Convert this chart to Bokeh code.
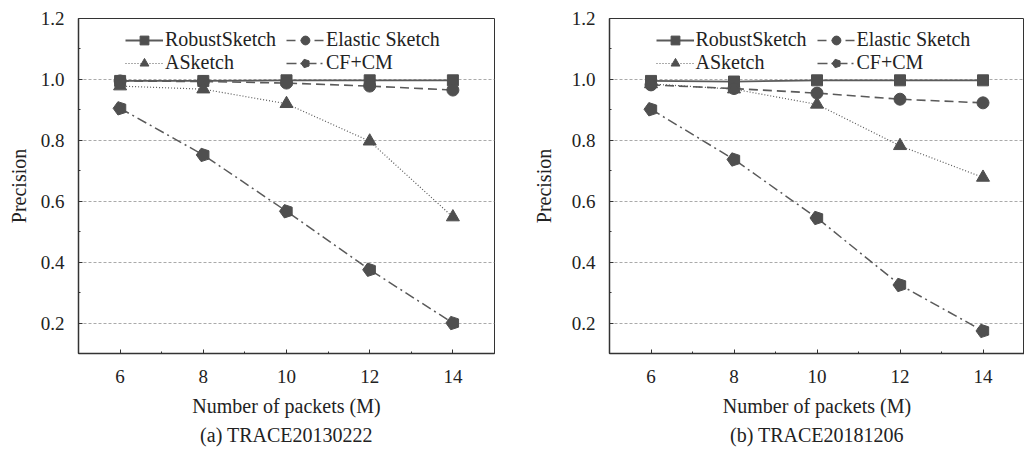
import math
from bokeh.plotting import figure
from bokeh.layouts import row
from bokeh.models import FixedTicker, NumeralTickFormatter, Title, Range1d, Legend, LegendItem
from bokeh.embed import file_html
from bokeh.resources import INLINE

packets = [6, 8, 10, 12, 14]

a_robust = [0.995, 0.995, 0.997, 0.997, 0.997]
a_elastic = [0.995, 0.993, 0.988, 0.978, 0.965]
a_asketch = [0.978, 0.968, 0.920, 0.797, 0.548]
a_cfcm = [0.905, 0.752, 0.567, 0.375, 0.200]

b_robust = [0.995, 0.993, 0.997, 0.997, 0.997]
b_elastic = [0.982, 0.970, 0.955, 0.935, 0.923]
b_asketch = [0.985, 0.968, 0.918, 0.782, 0.678]
b_cfcm = [0.902, 0.737, 0.545, 0.325, 0.174]

x_ticks = [6, 8, 10, 12, 14]
x_minor = [5, 7, 9, 11, 13, 15]
y_ticks = [0.2, 0.4, 0.6, 0.8, 1.0, 1.2]
y_minor = [0.1, 0.3, 0.5, 0.7, 0.9, 1.1]

FONT = "'Liberation Serif', serif"
TXT = "#222222"
MK = "#4f4f4f"
LN = "#5a5a5a"


def make(caption, robust, elastic, asketch, cfcm, left_border, right_border, ylab_standoff):
    p = figure(width=512, height=450, output_backend="svg", toolbar_location=None,
               x_range=Range1d(5, 15), y_range=Range1d(0.1, 1.2),
               min_border_left=left_border, min_border_right=right_border,
               min_border_top=18, min_border_bottom=97)
    p.background_fill_color = "white"
    p.outline_line_color = "#333333"
    p.outline_line_width = 1

    p.xgrid.visible = False
    p.ygrid.grid_line_color = "#aaaaaa"
    p.ygrid.grid_line_dash = "3 2"
    p.ygrid.grid_line_width = 1

    p.xaxis.ticker = FixedTicker(ticks=x_ticks, minor_ticks=x_minor)
    p.yaxis.ticker = FixedTicker(ticks=y_ticks, minor_ticks=y_minor)
    p.yaxis.formatter = NumeralTickFormatter(format="0.0")
    for ax in (p.xaxis, p.yaxis):
        ax.axis_line_color = "#333333"
        ax.axis_line_width = 1.5
        ax.major_tick_line_color = "#333333"
        ax.minor_tick_line_color = "#333333"
        ax.major_tick_in = 4
        ax.major_tick_out = 0
        ax.minor_tick_in = 2
        ax.minor_tick_out = 0
        ax.major_label_text_font = FONT
        ax.major_label_text_font_size = "19px"
        ax.major_label_text_color = TXT
        ax.axis_label_text_font = FONT
        ax.axis_label_text_font_size = "20px"
        ax.axis_label_text_font_style = "normal"
        ax.axis_label_text_color = TXT
    p.xaxis.axis_label = "Number of packets (M)"
    p.yaxis.axis_label = "Precision"
    p.xaxis.major_label_standoff = 16
    p.xaxis.axis_label_standoff = 9
    p.yaxis.major_label_standoff = 14
    p.yaxis.axis_label_standoff = ylab_standoff

    r1 = p.line(packets, robust, line_color=LN, line_width=1.8)
    s1 = p.scatter(packets, robust, marker="square", size=11, fill_color=MK, line_color=MK)

    r2 = p.line(packets, elastic, line_color=LN, line_width=1.6, line_dash="9 5")
    s2 = p.scatter(packets, elastic, marker="circle", size=12, fill_color=MK, line_color=MK)

    r3 = p.line(packets, asketch, line_color=LN, line_width=1.2, line_dash="1 2")
    s3 = p.scatter(packets, asketch, marker="triangle", size=13, fill_color=MK, line_color=MK)

    r4 = p.line(packets, cfcm, line_color=LN, line_width=1.5, line_dash="10 4 2 4")
    s4 = p.ngon(packets, cfcm, radius=7, radius_units="screen", n=5, angle=math.pi / 2,
                fill_color=MK, line_color=MK)

    lg = Legend(items=[
        LegendItem(label="RobustSketch", renderers=[r1, s1]),
        LegendItem(label="ASketch", renderers=[r3, s3]),
        LegendItem(label="Elastic Sketch", renderers=[r2, s2]),
        LegendItem(label="CF+CM", renderers=[r4, s4]),
    ])
    lg.ncols = 2
    lg.location = "top_center"
    lg.margin = 10
    lg.padding = 0
    lg.spacing = -3
    lg.border_line_color = None
    lg.background_fill_alpha = 0
    lg.label_text_font = FONT
    lg.label_text_font_size = "20px"
    lg.label_text_color = TXT
    lg.glyph_width = 38
    lg.glyph_height = 22
    lg.label_height = 19
    lg.label_width = 121
    lg.label_standoff = 2
    lg.label_text_baseline = "middle"
    p.add_layout(lg, "center")

    p.add_layout(Title(text=caption, align="center", text_font=FONT, text_font_size="20px",
                       text_font_style="normal", text_color=TXT, standoff=5), "below")
    return p


pa = make("(a) TRACE20130222", a_robust, a_elastic, a_asketch, a_cfcm, 78, 18, 8)
pb = make("(b) TRACE20181206", b_robust, b_elastic, b_asketch, b_cfcm, 97, 0, 14)

layout = row(pa, pb)
open("out.html", "w").write(file_html(layout, INLINE))
